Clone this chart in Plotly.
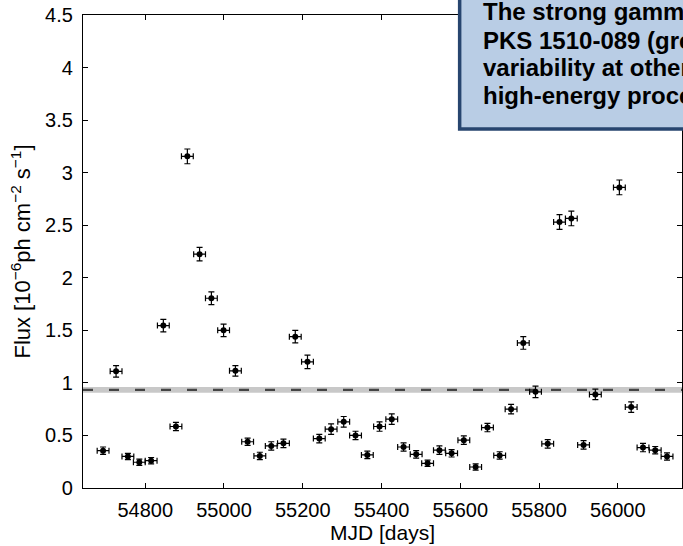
import plotly.graph_objects as go

mjd = [54693, 54726, 54756, 54785, 54815, 54846, 54878, 54907, 54938, 54968,
       54999, 55029, 55060, 55091, 55120, 55151, 55181, 55212, 55242, 55272,
       55304, 55334, 55364, 55395, 55426, 55456, 55488, 55517, 55547, 55578,
       55609, 55639, 55669, 55700, 55729, 55760, 55791, 55822, 55852, 55882,
       55913, 55943, 56004, 56034, 56064, 56095, 56125]
flux = [0.355, 1.11, 0.30, 0.245, 0.26, 1.545, 0.585, 3.155, 2.225, 1.805,
        1.50, 1.115, 0.44, 0.305, 0.40, 0.425, 1.44, 1.20, 0.47, 0.56,
        0.63, 0.50, 0.315, 0.585, 0.655, 0.39, 0.32, 0.235, 0.36, 0.33,
        0.455, 0.20, 0.575, 0.31, 0.75, 1.38, 0.915, 0.42, 2.53, 2.565,
        0.41, 0.89, 2.86, 0.77, 0.385, 0.36, 0.30]
flux_err = [0.035, 0.055, 0.03, 0.03, 0.03, 0.06, 0.04, 0.07, 0.065, 0.06,
            0.06, 0.05, 0.035, 0.035, 0.04, 0.04, 0.06, 0.065, 0.04, 0.05,
            0.05, 0.04, 0.035, 0.045, 0.05, 0.04, 0.035, 0.03, 0.04, 0.035,
            0.04, 0.03, 0.04, 0.035, 0.045, 0.06, 0.055, 0.04, 0.07, 0.07,
            0.04, 0.05, 0.07, 0.05, 0.04, 0.035, 0.035]
bin_half_width = 15  # days
mean_flux = 0.933
mean_band = [0.905, 0.96]

x_ticks = [54800, 55000, 55200, 55400, 55600, 55800, 56000]
x_ticklabels = ["54800", "55000", "55200", "55400", "55600", "55800", "56000"]
y_ticks = [0, 0.5, 1, 1.5, 2, 2.5, 3, 3.5, 4, 4.5]
y_ticklabels = ["0", "0.5", "1", "1.5", "2", "2.5", "3", "3.5", "4", "4.5"]

box_lines = ["The strong gamma-ray", "PKS 1510-089 (green", "variability at other",
             "high-energy processes"]

FONT = "Liberation Sans, Arial, Helvetica, sans-serif"

fig = go.Figure()
fig.add_trace(go.Scatter(
    x=mjd, y=flux, mode="markers",
    marker=dict(color="black", size=6),
    error_y=dict(type="data", array=flux_err, color="black", thickness=1.2, width=3),
    error_x=dict(type="constant", value=bin_half_width, color="black", thickness=1.2, width=3),
    showlegend=False,
))

# mean band and dashed line
fig.add_shape(type="rect", xref="paper", yref="y", x0=0, x1=1,
              y0=mean_band[0], y1=mean_band[1], fillcolor="#c8c8c8",
              line=dict(width=0), layer="below")
fig.add_shape(type="line", xref="paper", yref="y", x0=0, x1=1,
              y0=mean_flux, y1=mean_flux,
              line=dict(color="#444444", width=2.2, dash="10px,16px"), layer="below")

# overlaid text box (top right)
fig.add_shape(type="rect", xref="paper", yref="paper", x0=0.6288, x1=1.3,
              y0=0.759, y1=1.2, fillcolor="#b9cde5",
              line=dict(color="#27456f", width=3.5), layer="above")
line_y = [1.008, 0.947, 0.888, 0.830]
for txt, yy in zip(box_lines, line_y):
    fig.add_annotation(text="<b>" + txt + "</b>", xref="paper", yref="paper",
                       x=0.664, y=yy, xanchor="left", yanchor="middle",
                       showarrow=False, font=dict(family=FONT, size=24, color="black"))

axis_common = dict(
    showline=True, linecolor="black", linewidth=1.2, mirror="ticks",
    ticks="inside", ticklen=5, tickcolor="black", tickwidth=1,
    showgrid=False, zeroline=False, automargin=False, ticklabeloverflow="allow",
    tickfont=dict(family=FONT, size=20, color="black"),
)
fig.update_xaxes(range=[54642, 56163], tickvals=x_ticks, ticktext=x_ticklabels,
                 title=dict(text="MJD [days]", font=dict(family=FONT, size=21, color="black"), standoff=3),
                 ticklabelstandoff=4, **axis_common)
fig.update_yaxes(range=[0, 4.5], tickvals=y_ticks, ticktext=y_ticklabels,
                 title=dict(text="Flux [10<sup>−6</sup>ph cm<sup>−2</sup> s<sup>−1</sup>]",
                            font=dict(family=FONT, size=22, color="black"), standoff=8),
                 ticklabelstandoff=5, **axis_common)

fig.update_layout(
    width=683, height=546,
    margin=dict(l=83, r=1, t=15, b=58, autoexpand=False),
    paper_bgcolor="white", plot_bgcolor="white",
    font=dict(family=FONT, color="black"),
)

fig.write_html("out.html", config={"displayModeBar": False},
               post_script="document.body.style.margin='0px';")
